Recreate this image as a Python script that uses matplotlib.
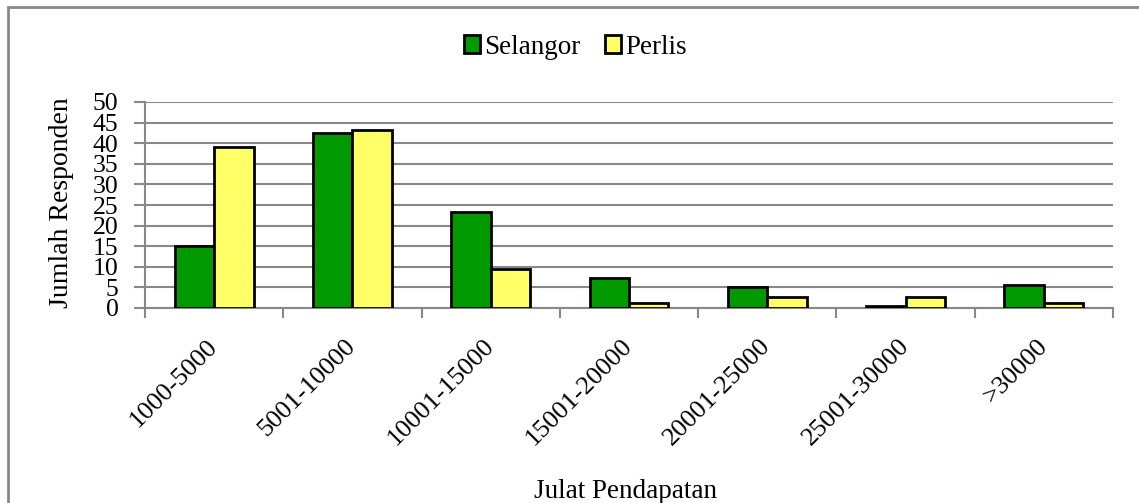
import numpy as np
import matplotlib.pyplot as plt
from matplotlib.patches import Rectangle

categories = ["1000-5000", "5001-10000", "10001-15000", "15001-20000",
              "20001-25000", "25001-30000", ">30000"]
selangor = [15, 42.5, 23.2, 7.4, 5.2, 0.6, 5.5]
perlis = [39, 43.2, 9.4, 1.2, 2.7, 2.7, 1.2]

plt.rcParams['font.family'] = ['Liberation Serif', 'DejaVu Serif']

fig = plt.figure(figsize=(11.39, 5.03), dpi=100)
ax = fig.add_axes([145/1139, 1-308/503, (1113-145)/1139, (308-102)/503])

# outer chart border (only left/top visible in the crop)
fig.patches.append(Rectangle((8/1139, -0.1), 1.2, 1 - 7/503 + 0.1,
                             transform=fig.transFigure, fill=False,
                             edgecolor='#888888', linewidth=2))

x = np.arange(len(categories))
w = 0.285
ax.bar(x - w/2, selangor, w, color='#009900', edgecolor='black', linewidth=2,
       label='Selangor', zorder=3)
ax.bar(x + w/2, perlis, w, color='#FFFF66', edgecolor='black', linewidth=2,
       label='Perlis', zorder=3)

ax.set_xlim(-0.5, len(categories) - 0.5)
ax.set_ylim(0, 50)
ax.set_yticks(range(0, 51, 5))
ax.yaxis.grid(True, color='#888888', linewidth=1.5, zorder=0)
ax.tick_params(axis='y', length=8, width=1.5, color='#888888', labelsize=18.5, pad=11)

ax.set_xticks(x)
ax.set_xticklabels(categories, rotation=45, ha='right', va='center',
                   rotation_mode='anchor', fontsize=19)
ax.tick_params(axis='x', which='major', length=0, pad=25)
ax.set_xticks(np.arange(-0.5, len(categories)), minor=True)
ax.tick_params(axis='x', which='minor', length=7, width=1.5, color='#888888')

for s in ['top', 'right']:
    ax.spines[s].set_visible(False)
for s in ['left', 'bottom']:
    ax.spines[s].set_color('#888888')
    ax.spines[s].set_linewidth(1.5)

fig.text(62/1139, 1-203/503, 'Jumlah Responden', rotation=90, ha='center', va='center',
         fontsize=20)
fig.text(626/1139, 1-492/503, 'Julat Pendapatan', ha='center', va='center', fontsize=19.5)

fig.legend(loc='center', bbox_to_anchor=(575/1139, 1-47/503), ncol=2, frameon=False,
           fontsize=19.5, handlelength=0.6, handleheight=0.6, handletextpad=0.15,
           columnspacing=0.9)

fig.savefig('out.png', dpi=100)
